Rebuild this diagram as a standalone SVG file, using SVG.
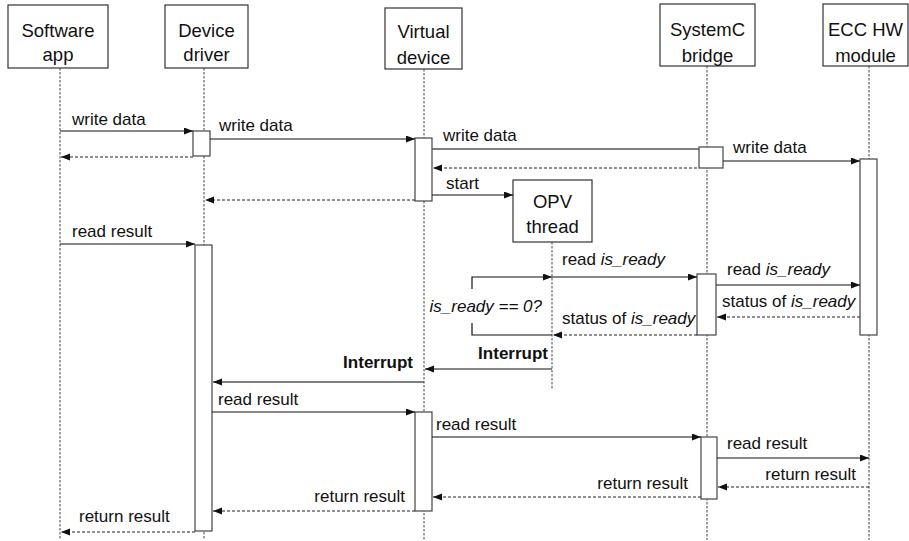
<svg xmlns="http://www.w3.org/2000/svg" width="909" height="541" viewBox="0 0 909 541">
<style>
  .box{fill:#fff;stroke:#333;stroke-width:1.2}
  .act{fill:#fff;stroke:#444;stroke-width:1.2}
  .life{stroke:#444;stroke-width:1;stroke-dasharray:2.5,1.5;fill:none}
  .hdr{font-family:"Liberation Sans",Arial,sans-serif;font-size:18.5px;fill:#111;text-anchor:middle}
  .lbl{font-family:"Liberation Sans",Arial,sans-serif;font-size:17px;fill:#111}
  .end{text-anchor:end}
  .it{font-style:italic}
  .b{font-weight:bold}
  .msg{stroke:#111;stroke-width:1.2;fill:none}
  .gmsg{stroke:#555;stroke-width:1.4;fill:none}
  .ret{stroke:#222;stroke-width:1;stroke-dasharray:3,2;fill:none}
</style>
<defs>
  <marker id="ah" markerUnits="userSpaceOnUse" markerWidth="10" markerHeight="8" refX="9" refY="3.5" orient="auto">
    <path d="M0,0 L9,3.5 L0,7 z" fill="#111"/>
  </marker>
</defs>

<g id="software-app">
  <line class="life" x1="60" y1="68" x2="60" y2="540"/>
  <rect class="box" x="8" y="5" width="100" height="63"/>
  <text class="hdr" x="58" y="37">Software</text>
  <text class="hdr" x="58" y="61">app</text>
</g>
<g id="device-driver">
  <line class="life" x1="204" y1="68" x2="204" y2="540"/>
  <rect class="box" x="165" y="5" width="83" height="63"/>
  <text class="hdr" x="206.5" y="37">Device</text>
  <text class="hdr" x="206.5" y="61">driver</text>
  <rect class="act" x="193" y="131" width="17" height="25"/>
  <rect class="act" x="195" y="245" width="17" height="286"/>
</g>
<g id="virtual-device">
  <line class="life" x1="424" y1="69" x2="424" y2="540"/>
  <rect class="box" x="385" y="8" width="77" height="61"/>
  <text class="hdr" x="423.5" y="38">Virtual</text>
  <text class="hdr" x="423.5" y="64">device</text>
  <rect class="act" x="415" y="138" width="17" height="63"/>
  <rect class="act" x="415" y="412" width="17" height="99"/>
</g>
<g id="opv-thread">
  <line class="life" x1="552" y1="242" x2="552" y2="390"/>
  <rect class="box" x="513" y="180" width="79" height="62"/>
  <text class="hdr" x="552.5" y="208">OPV</text>
  <text class="hdr" x="552.5" y="233">thread</text>
</g>
<g id="systemc-bridge">
  <line class="life" x1="707" y1="66" x2="707" y2="540"/>
  <rect class="box" x="660" y="4" width="95" height="62"/>
  <text class="hdr" x="707.5" y="36">SystemC</text>
  <text class="hdr" x="707.5" y="62">bridge</text>
  <rect class="act" x="699" y="147" width="24" height="21"/>
  <rect class="act" x="697" y="274" width="19" height="61"/>
  <rect class="act" x="701" y="437" width="16" height="62"/>
</g>
<g id="ecc-hw-module">
  <line class="life" x1="869" y1="66" x2="869" y2="540"/>
  <rect class="box" x="823" y="4" width="85" height="62"/>
  <text class="hdr" x="865.5" y="36">ECC HW</text>
  <text class="hdr" x="865.5" y="62">module</text>
  <rect class="act" x="860" y="159" width="17" height="176"/>
</g>

<g id="connectors">
  <line class="msg" x1="60" y1="131" x2="193" y2="131" marker-end="url(#ah)"/>
  <text class="lbl" x="72" y="125">write data</text>
  <line class="ret" x1="193" y1="157" x2="61" y2="157" marker-end="url(#ah)"/>

  <line class="msg" x1="210" y1="139" x2="415" y2="139" marker-end="url(#ah)"/>
  <text class="lbl" x="219" y="131">write data</text>

  <line class="gmsg" x1="432" y1="149" x2="699" y2="149"/>
  <text class="lbl" x="443" y="141">write data</text>
  <line class="ret" x1="697" y1="168" x2="433" y2="168" marker-end="url(#ah)"/>

  <line class="msg" x1="723" y1="161" x2="860" y2="161" marker-end="url(#ah)"/>
  <text class="lbl" x="733" y="153">write data</text>

  <line class="msg" x1="432" y1="195" x2="513" y2="195" marker-end="url(#ah)"/>
  <text class="lbl" x="446" y="189">start</text>

  <line class="ret" x1="415" y1="200" x2="205" y2="200" marker-end="url(#ah)"/>

  <line class="msg" x1="60" y1="244" x2="195" y2="244" marker-end="url(#ah)"/>
  <text class="lbl" x="72" y="237">read result</text>

  <path class="msg" d="M472,289 V277 H552" marker-end="url(#ah)"/>
  <path class="msg" d="M472,323 V335 H552"/>
  <text class="lbl it end" x="542" y="312">is_ready == 0?</text>

  <line class="msg" x1="552" y1="277" x2="697" y2="277" marker-end="url(#ah)"/>
  <text class="lbl" x="562" y="265">read <tspan class="it">is_ready</tspan></text>

  <line class="msg" x1="716" y1="285" x2="860" y2="285" marker-end="url(#ah)"/>
  <text class="lbl" x="727" y="275">read <tspan class="it">is_ready</tspan></text>

  <line class="ret" x1="860" y1="317" x2="717" y2="317" marker-end="url(#ah)"/>
  <text class="lbl" x="722" y="307">status of <tspan class="it">is_ready</tspan></text>

  <line class="ret" x1="697" y1="335" x2="553" y2="335" marker-end="url(#ah)"/>
  <text class="lbl" x="562" y="324">status of <tspan class="it">is_ready</tspan></text>

  <line class="msg" x1="552" y1="369" x2="425" y2="369" marker-end="url(#ah)"/>
  <text class="lbl b end" x="548" y="359">Interrupt</text>

  <line class="gmsg" x1="424" y1="382" x2="213" y2="382" marker-end="url(#ah)"/>
  <text class="lbl b end" x="413" y="368">Interrupt</text>

  <line class="msg" x1="212" y1="412" x2="415" y2="412" marker-end="url(#ah)"/>
  <text class="lbl" x="218" y="405">read result</text>

  <line class="msg" x1="432" y1="437" x2="701" y2="437" marker-end="url(#ah)"/>
  <text class="lbl" x="436" y="430">read result</text>

  <line class="msg" x1="717" y1="458" x2="869" y2="458" marker-end="url(#ah)"/>
  <text class="lbl" x="727" y="449">read result</text>

  <line class="ret" x1="869" y1="487" x2="718" y2="487" marker-end="url(#ah)"/>
  <text class="lbl end" x="856" y="480">return result</text>

  <line class="ret" x1="701" y1="497" x2="433" y2="497" marker-end="url(#ah)"/>
  <text class="lbl end" x="688" y="489">return result</text>

  <line class="ret" x1="415" y1="511" x2="213" y2="511" marker-end="url(#ah)"/>
  <text class="lbl end" x="405" y="502">return result</text>

  <line class="ret" x1="195" y1="532" x2="61" y2="532" marker-end="url(#ah)"/>
  <text class="lbl" x="79" y="522">return result</text>
</g>
</svg>
